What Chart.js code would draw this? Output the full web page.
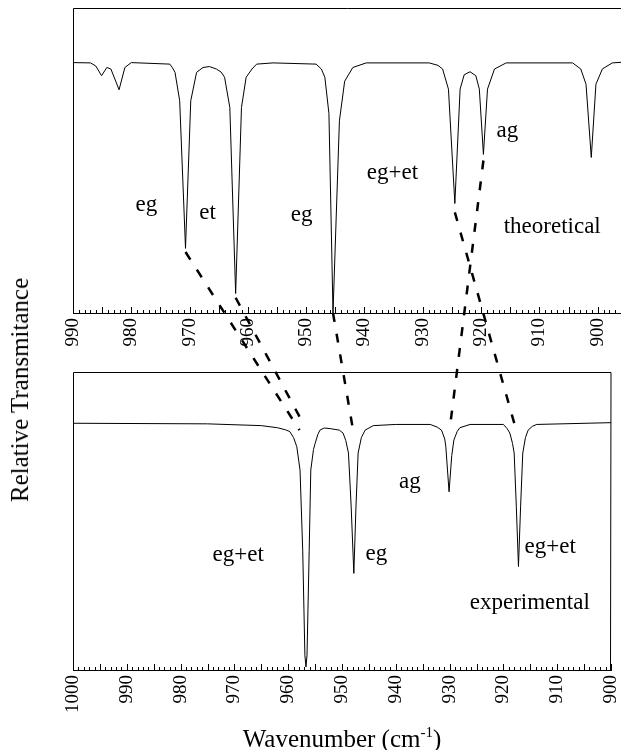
<!DOCTYPE html>
<html>
<head>
<meta charset="utf-8">
<script src="https://cdn.jsdelivr.net/npm/chart.js@4.4.0/dist/chart.umd.min.js"></script>
<style>
  body { margin: 0; background: #fff; }
  #wrap { position: relative; width: 621px; height: 750px; overflow: hidden; }
  #wrap canvas { position: absolute; left: 0; }
  #ylabel {
    position: absolute; left: 20px; top: 390px; white-space: nowrap;
    font: 25px 'Liberation Serif', 'Times New Roman', serif; color: #000;
    transform: translate(-50%, -50%) rotate(-90deg);
  }
</style>
</head>
<body>
<div id="wrap">
  <canvas id="theo" width="621" height="360" style="top:0"></canvas>
  <canvas id="expt" width="621" height="390" style="top:360px"></canvas>
  <canvas id="links" width="621" height="750" style="top:0"></canvas>
  <div id="ylabel">Relative Transmitance</div>
</div>
<script>
// theoretical spectrum (wavenumber, relative transmittance)
const theoWn = [990.0, 987.0, 986.1, 985.1, 984.2, 983.5, 982.1, 981.1, 980.0,
  973.4, 973.0, 972.5, 971.7, 970.7, 969.8, 968.8, 967.7, 966.6, 965.4, 964.6, 964.0, 963.1, 962.1,
  961.1, 960.3, 959.3, 958.5, 955.7, 948.3, 947.4, 946.8, 946.1, 945.4, 944.3, 943.4, 942.0, 939.7,
  928.9, 927.4, 926.6, 925.6, 924.5, 923.6, 922.9, 921.9, 920.9, 920.3, 919.6, 918.9, 917.7, 915.7,
  904.3, 902.9, 902.0, 901.1, 900.3, 899.2, 897.5, 896.0];
const theoT = [0.821, 0.820, 0.810, 0.778, 0.805, 0.800, 0.732, 0.805, 0.821,
  0.816, 0.806, 0.789, 0.696, 0.212, 0.696, 0.789, 0.805, 0.808, 0.800, 0.790, 0.773, 0.674, 0.064,
  0.674, 0.773, 0.800, 0.816, 0.820, 0.816, 0.800, 0.773, 0.654, 0.000, 0.630, 0.760, 0.805, 0.820,
  0.820, 0.812, 0.800, 0.734, 0.359, 0.734, 0.781, 0.791, 0.778, 0.734, 0.520, 0.734, 0.800, 0.820,
  0.820, 0.800, 0.750, 0.510, 0.750, 0.800, 0.820, 0.822];

// experimental spectrum
const exptWn = [1000, 975, 965, 962, 960.5, 959.7, 959.0, 958.4, 957.8, 957.3, 956.9, 956.7,
  956.5, 956.1, 955.8, 955.3, 955.0, 954.5, 954.1, 953.3, 952.2, 950.5, 949.8, 949.3, 948.8, 948.3,
  947.8, 947.4, 947.0, 946.4, 945.7, 944.2, 940, 933.6, 932.3, 931.5, 930.9, 930.7, 930.1, 929.6,
  929.2, 928.6, 928.1, 926.2, 920, 919.3, 918.8, 918.3, 918.0, 917.6, 917.2, 916.8, 916.4, 915.9,
  915.4, 914.6, 913.8, 900];
const exptT = [0.828, 0.826, 0.820, 0.813, 0.806, 0.800, 0.780, 0.749, 0.671, 0.400, 0.050, 0.010,
  0.050, 0.400, 0.671, 0.740, 0.760, 0.790, 0.805, 0.812, 0.810, 0.805, 0.795, 0.770, 0.728, 0.550,
  0.324, 0.550, 0.728, 0.780, 0.805, 0.820, 0.824, 0.824, 0.815, 0.805, 0.775, 0.749, 0.598, 0.720,
  0.772, 0.800, 0.813, 0.824, 0.824, 0.810, 0.795, 0.760, 0.728, 0.550, 0.347, 0.550, 0.728, 0.780,
  0.805, 0.818, 0.824, 0.830];

const theoTicks = [990, 980, 970, 960, 950, 940, 930, 920, 910, 900];
const exptTicks = [1000, 990, 980, 970, 960, 950, 940, 930, 920, 910, 900];

// band assignments written next to the peaks
const theoNotes = [
  { text: 'eg', wn: 977.4, t: 0.353 },
  { text: 'et', wn: 966.9, t: 0.327 },
  { text: 'eg', wn: 950.8, t: 0.320 },
  { text: 'eg+et', wn: 935.2, t: 0.458 },
  { text: 'ag', wn: 915.5, t: 0.598 },
  { text: 'theoretical', wn: 907.8, t: 0.281 }
];
const exptNotes = [
  { text: 'eg+et', wn: 969.3, t: 0.386 },
  { text: 'eg', wn: 943.6, t: 0.390 },
  { text: 'ag', wn: 937.4, t: 0.632 },
  { text: 'eg+et', wn: 911.3, t: 0.414 },
  { text: 'experimental', wn: 915.1, t: 0.224 }
];

// dashed correlation lines: theoretical peak -> experimental peak
const linkTheoWn = [970.7, 962.1, 945.4, 924.5, 919.6];
const linkTheoT = [0.20, 0.05, 0.0, 0.33, 0.50];
const linkExptWn = [957.9, 957.0, 947.8, 917.7, 929.9];
const linkExptT = [0.805, 0.82, 0.79, 0.81, 0.82];

const serif = "'Liberation Serif', 'Times New Roman', serif";

function pts(xs, ys) {
  return xs.map((x, i) => ({ x: x, y: ys[i] }));
}

function framePlugin(rightSide) {
  return {
    id: 'frame',
    afterDraw(chart) {
      const ctx = chart.ctx, a = chart.chartArea;
      ctx.save();
      ctx.strokeStyle = '#000';
      ctx.lineWidth = 1;
      ctx.beginPath();
      ctx.moveTo(a.left + 0.5, a.bottom);
      ctx.lineTo(a.left + 0.5, a.top + 0.5);
      ctx.lineTo(a.right, a.top + 0.5);
      if (rightSide) ctx.lineTo(a.right - 0.5, a.bottom);
      ctx.stroke();
      // small inward ticks every 1 cm-1, longer every 5
      const x = chart.scales.x;
      const lo = Math.ceil(Math.min(x.min, x.max)), hi = Math.floor(Math.max(x.min, x.max));
      ctx.beginPath();
      for (let v = lo; v <= hi; v++) {
        const px = Math.round(x.getPixelForValue(v)) + 0.5;
        const len = v % 5 === 0 ? 6 : 3;
        ctx.moveTo(px, a.bottom);
        ctx.lineTo(px, a.bottom - len);
      }
      ctx.stroke();
      ctx.restore();
    }
  };
}

function notesPlugin(notes) {
  return {
    id: 'notes',
    afterDraw(chart) {
      const ctx = chart.ctx;
      ctx.save();
      ctx.fillStyle = '#000';
      ctx.font = '23px ' + serif;
      ctx.textAlign = 'center';
      ctx.textBaseline = 'middle';
      for (const n of notes) {
        ctx.fillText(n.text, chart.scales.x.getPixelForValue(n.wn), chart.scales.y.getPixelForValue(n.t));
      }
      ctx.restore();
    }
  };
}

const xTitle = {
  id: 'xTitle',
  afterDraw(chart) {
    const ctx = chart.ctx, a = chart.chartArea;
    const main = 'Wavenumber (cm', sup = '-1', tail = ')';
    ctx.save();
    ctx.fillStyle = '#000';
    ctx.textBaseline = 'alphabetic';
    ctx.font = '25px ' + serif;
    const w1 = ctx.measureText(main).width, w3 = ctx.measureText(tail).width;
    ctx.font = '15px ' + serif;
    const w2 = ctx.measureText(sup).width;
    let x0 = (a.left + a.right) / 2 - (w1 + w2 + w3) / 2;
    const y0 = 387;
    ctx.font = '25px ' + serif;
    ctx.textAlign = 'left';
    ctx.fillText(main, x0, y0);
    ctx.font = '15px ' + serif;
    ctx.fillText(sup, x0 + w1, y0 - 10);
    ctx.font = '25px ' + serif;
    ctx.fillText(tail, x0 + w1 + w2, y0);
    ctx.restore();
  }
};

function makeChart(id, data, xmin, xmax, ticks, pad, axisHeight, plugins) {
  return new Chart(document.getElementById(id), {
    type: 'line',
    data: {
      datasets: [{
        data: data,
        borderColor: '#000',
        borderWidth: 1,
        pointRadius: 0,
        tension: 0,
        fill: false
      }]
    },
    options: {
      responsive: false,
      animation: false,
      events: [],
      layout: { padding: pad },
      plugins: { legend: { display: false }, tooltip: { enabled: false } },
      scales: {
        x: {
          type: 'linear',
          reverse: true,
          min: xmin,
          max: xmax,
          afterBuildTicks: s => { s.ticks = ticks.map(v => ({ value: v })); },
          afterFit: s => {
            s.height = axisHeight;
            s.paddingLeft = 0;
            s.paddingRight = 0;
          },
          grid: { display: false, drawTicks: false },
          border: { display: true, color: '#000', width: 1 },
          ticks: {
            minRotation: 90,
            maxRotation: 90,
            padding: 5,
            color: '#000',
            font: { family: serif, size: 19 },
            callback: v => String(v)
          }
        },
        y: {
          display: false,
          min: 0,
          max: 1
        }
      }
    },
    plugins: plugins
  });
}

const theoChart = makeChart('theo', pts(theoWn, theoT), 896, 990, theoTicks,
  { left: 73, top: 8, right: 0, bottom: 0 }, 47,
  [framePlugin(false), notesPlugin(theoNotes)]);

const exptChart = makeChart('expt', pts(exptWn, exptT), 900, 1000, exptTicks,
  { left: 73, top: 12, right: 10, bottom: 0 }, 80,
  [framePlugin(true), notesPlugin(exptNotes), xTitle]);

// dashed lines across both panels, positioned with each chart's own scales
(function drawLinks() {
  const c = document.getElementById('links');
  const ctx = c.getContext('2d');
  const offTop = 0, offBottom = 360;
  ctx.strokeStyle = '#000';
  ctx.lineWidth = 2.5;
  ctx.setLineDash([9, 12]);
  for (let i = 0; i < linkTheoWn.length; i++) {
    const x1 = theoChart.scales.x.getPixelForValue(linkTheoWn[i]);
    const y1 = theoChart.scales.y.getPixelForValue(linkTheoT[i]) + offTop;
    const x2 = exptChart.scales.x.getPixelForValue(linkExptWn[i]);
    const y2 = exptChart.scales.y.getPixelForValue(linkExptT[i]) + offBottom;
    ctx.beginPath();
    ctx.moveTo(x1, y1);
    ctx.lineTo(x2, y2);
    ctx.stroke();
  }
})();
</script>
</body>
</html>
